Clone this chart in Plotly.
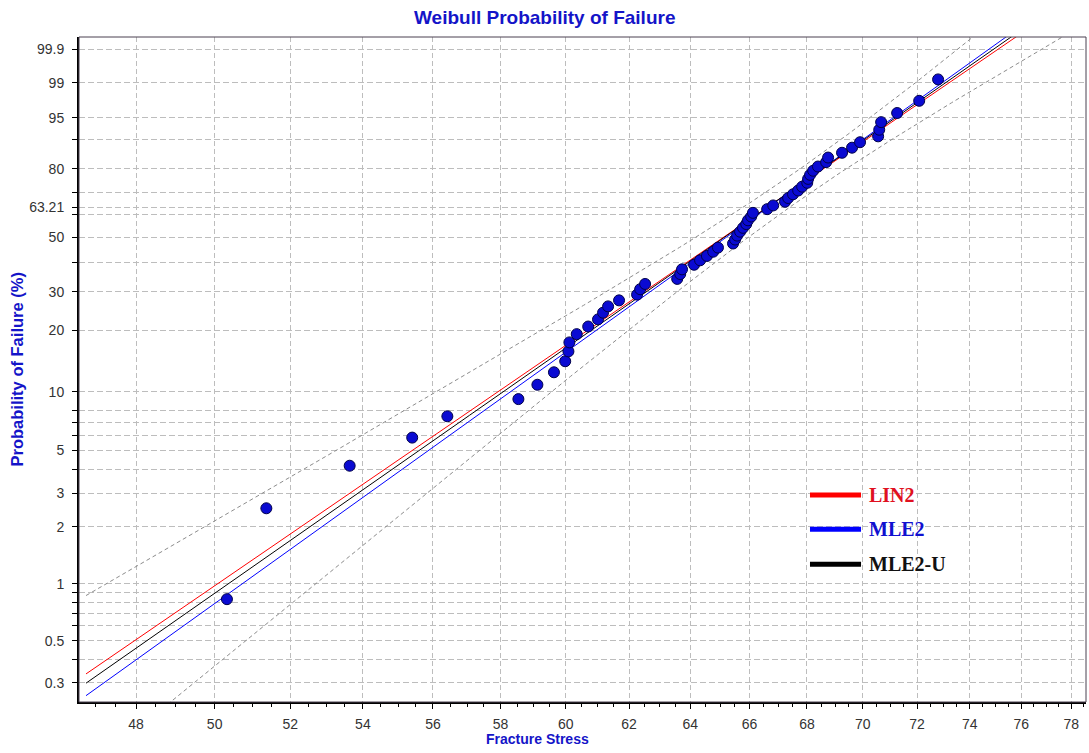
import numpy as np
import plotly.graph_objects as go

# ---- data -------------------------------------------------------------
# fracture stress of the 60 specimens (ascending) and their plotting positions (%)
stress = [50.32, 51.36, 53.63, 55.40, 56.42, 58.54, 59.12, 59.63, 59.98, 60.08,
          60.11, 60.34, 60.70, 61.01, 61.17, 61.33, 61.68, 62.26, 62.36, 62.52,
          63.57, 63.67, 63.73, 64.13, 64.33, 64.56, 64.77, 64.93, 65.44, 65.51,
          65.58, 65.68, 65.78, 65.89, 65.95, 66.06, 66.12, 66.61, 66.82, 67.23,
          67.34, 67.51, 67.69, 67.83, 68.01, 68.04, 68.11, 68.22, 68.39, 68.68,
          68.75, 69.25, 69.61, 69.90, 70.56, 70.60, 70.67, 71.26, 72.08, 72.79]
failure_pct = [0.83, 2.50, 4.17, 5.83, 7.50, 9.17, 10.83, 12.50, 14.17, 15.83,
               17.50, 19.17, 20.83, 22.50, 24.17, 25.83, 27.50, 29.17, 30.83, 32.50,
               34.17, 35.83, 37.50, 39.17, 40.83, 42.50, 44.17, 45.83, 47.50, 49.17,
               50.83, 52.50, 54.17, 55.83, 57.50, 59.17, 60.83, 62.50, 64.17, 65.83,
               67.50, 69.17, 70.83, 72.50, 74.17, 75.83, 77.50, 79.17, 80.83, 82.50,
               84.17, 85.83, 87.50, 89.17, 90.83, 92.50, 94.17, 95.83, 97.50, 99.17]

# two-parameter Weibull fits: name -> (shape m, scale s0, colour)
fit_names = ["LIN2", "MLE2", "MLE2-U"]
fit_shape = [16.13, 16.86, 16.45]
fit_scale = [66.60, 66.63, 66.60]
fit_colors = ["#ff0000", "#0000ff", "#000000"]
legend_text_colors = ["#e01020", "#1010d0", "#111111"]

# 90% confidence band about the MLE2-U line (half-width in ln(-ln(1-F)) units)
band_center_stress = 67.7
band_min_halfwidth = 0.19
band_slope = 2.85

stress_start = 46.77

# axis ticks
x_ticks = [48, 50, 52, 54, 56, 58, 60, 62, 64, 66, 68, 70, 72, 74, 76, 78]
y_labeled = [99.9, 99, 95, 80, 63.21, 50, 30, 20, 10, 5, 3, 2, 1, 0.5, 0.3]
y_unlabeled = [90, 70, 60, 40, 8, 7, 6, 4, 0.9, 0.8, 0.7, 0.6, 0.4]

x_range = [46.60, 78.60]
y_range_pct = [0.2368, 99.968]


def wy(p):
    """Weibull probability-paper ordinate for a failure percentage."""
    p = np.asarray(p, dtype=float) / 100.0
    return np.log(-np.log(1.0 - p))


BLUE_TXT = "#1414c8"
GRID = "#bdbdbd"

fig = go.Figure()

xs = np.exp(np.linspace(np.log(stress_start), np.log(80.0), 400))
u = np.log(xs)

# confidence bounds
m_u, s_u = fit_shape[2], fit_scale[2]
yc = m_u * (u - np.log(s_u))
half = np.sqrt(band_min_halfwidth ** 2 + band_slope ** 2 * (u - np.log(band_center_stress)) ** 2)
for yb in (yc + half, yc - half):
    fig.add_trace(go.Scatter(x=xs, y=yb, mode="lines",
                             line=dict(color="#8c8c8c", width=1, dash="4px,3px"),
                             hoverinfo="skip", showlegend=False))

# fitted lines
for name, m, s0, col in zip(fit_names, fit_shape, fit_scale, fit_colors):
    fig.add_trace(go.Scatter(x=xs, y=m * (u - np.log(s0)), mode="lines", name=name,
                             line=dict(color=col, width=1), showlegend=False))

# specimens
fig.add_trace(go.Scatter(x=stress, y=wy(failure_pct), mode="markers", name="data",
                         marker=dict(size=11, color="#0a0ad2",
                                     line=dict(color="#00004a", width=1)),
                         showlegend=False))

tick_font = dict(family="Liberation Sans, Arial, sans-serif", size=14, color="#333333")

y_vals = list(y_labeled) + list(y_unlabeled)
y_text = [("%g" % v) for v in y_labeled] + [""] * len(y_unlabeled)

x_minor = [v / 2 for v in range(94, 158)]

fig.update_layout(
    width=1089, height=753,
    margin=dict(l=79, r=3, t=37, b=51),
    paper_bgcolor="white", plot_bgcolor="white",
    xaxis=dict(
        type="log", range=[np.log10(x_range[0]), np.log10(x_range[1])],
        tickmode="array", tickvals=x_ticks, ticktext=[str(v) for v in x_ticks],
        ticks="outside", ticklen=5, tickwidth=1, tickcolor="#000",
        tickfont=tick_font, ticklabelstandoff=3,
        showgrid=True, gridcolor=GRID, gridwidth=1, griddash="5px,3px",
        showline=True, linecolor="#000", linewidth=2, zeroline=False,
        minor=dict(tickmode="array", tickvals=x_minor, ticks="outside",
                   ticklen=3, tickwidth=1, tickcolor="#000", showgrid=False),
    ),
    yaxis=dict(
        range=[float(wy(y_range_pct[0])), float(wy(y_range_pct[1]))],
        tickmode="array", tickvals=[float(v) for v in wy(y_vals)], ticktext=y_text,
        ticks="outside", ticklen=5, tickwidth=1, tickcolor="#000",
        tickfont=tick_font, ticklabelstandoff=5,
        showgrid=True, gridcolor=GRID, gridwidth=1, griddash="6px,3px",
        showline=True, linecolor="#000", linewidth=2, zeroline=False,
    ),
    showlegend=False,
)

# frame round the plot area
fig.add_shape(type="rect", xref="paper", yref="paper", x0=0, x1=1, y0=0, y1=1,
              line=dict(color="#4a4050", width=1), layer="above")

# titles
fig.add_annotation(text="<b>Weibull Probability of Failure</b>", xref="paper", yref="paper",
                   x=0.4623, y=1.030, xanchor="center", yanchor="middle", showarrow=False,
                   font=dict(family="Liberation Sans, Arial, sans-serif", size=19, color=BLUE_TXT))
fig.add_annotation(text="<b>Fracture Stress</b>", xref="paper", yref="paper",
                   x=0.4553, y=-0.0556, xanchor="center", yanchor="middle", showarrow=False,
                   font=dict(family="Liberation Sans, Arial, sans-serif", size=14, color=BLUE_TXT))
fig.add_annotation(text="<b>Probability of Failure (%)</b>", xref="paper", yref="paper",
                   x=-0.0616, y=0.5, xanchor="center", yanchor="middle", textangle=-90,
                   showarrow=False,
                   font=dict(family="Liberation Sans, Arial, sans-serif", size=16.5, color=BLUE_TXT))

# legend
leg_y = [0.3113, 0.2597, 0.2071]
for name, col, tcol, ly in zip(fit_names, fit_colors, legend_text_colors, leg_y):
    fig.add_shape(type="line", xref="paper", yref="paper", x0=0.7259, x1=0.7766, y0=ly, y1=ly,
                  line=dict(color=col, width=5))
    fig.add_annotation(text="<b>%s</b>" % name, xref="paper", yref="paper",
                       x=0.7830, y=ly, xanchor="left", yanchor="middle", showarrow=False,
                       font=dict(family="Liberation Serif, Times New Roman, serif", size=20, color=tcol))

fig.write_html("out.html")
